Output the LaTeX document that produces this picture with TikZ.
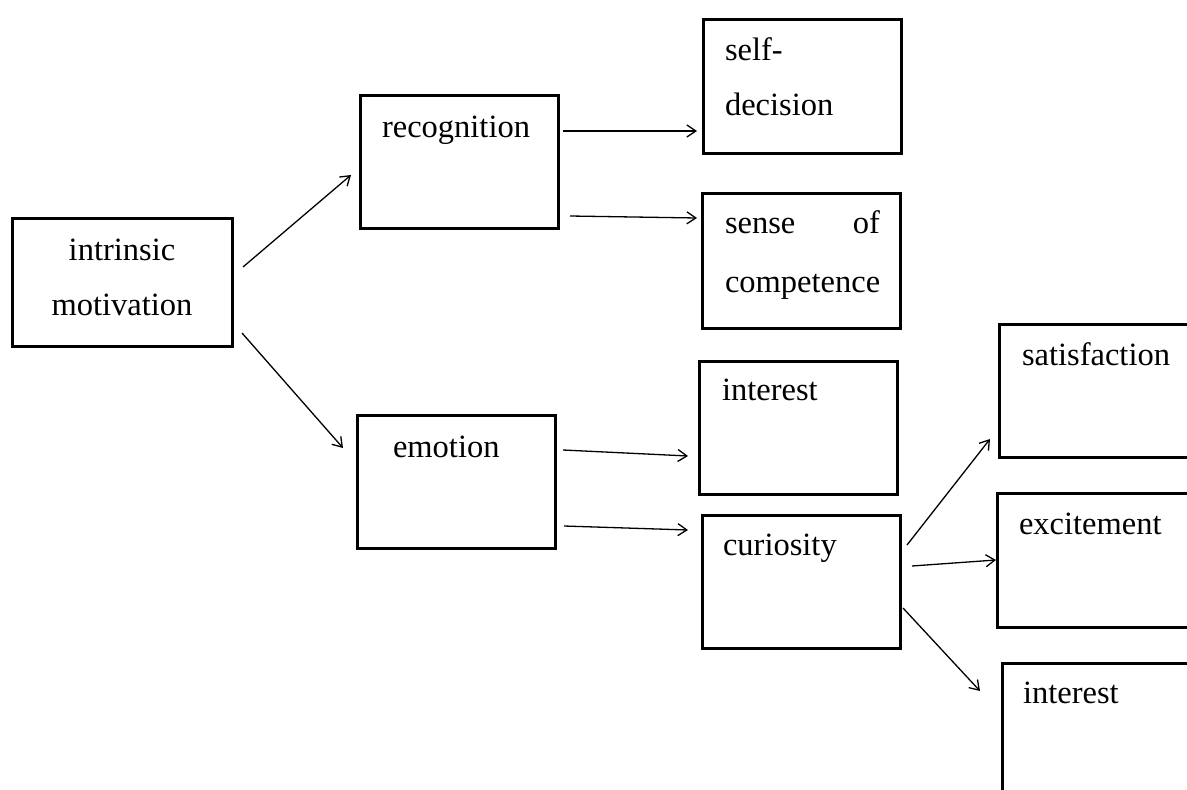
\documentclass[tikz,border=0pt]{standalone}
\usepackage{fontspec}
\setmainfont{Liberation Serif}
\usetikzlibrary{arrows.meta}
\begin{document}
\begin{tikzpicture}[x=1pt,y=-1pt,
  box/.style={draw,line width=3pt,inner sep=0pt,outer sep=0pt,minimum width=198pt,minimum height=133pt},
  lbl/.style={inner sep=0pt,outer sep=0pt,anchor=base west,font=\fontsize{32.5}{55}\selectfont},
  arr/.style={line width=1.3pt,-{Straight Barb[length=9pt,width=12pt,line width=1.3pt]}}]
\useasboundingbox (0,0) rectangle (1187,790);
\clip (0,0) rectangle (1187,790);
% boxes
\node[box,minimum width=220pt,minimum height=128pt] (intr) at (122,282) {};
\node[box] (recog) at (459,161.5) {};
\node[box,minimum height=134pt] (selfd) at (802,86) {};
\node[box,minimum height=135pt] (sense) at (801,260.5) {};
\node[box] (emot) at (456,481.5) {};
\node[box] (int1) at (798,427.5) {};
\node[box] (curi) at (801,581.5) {};
\node[box] (satis) at (1098,390.5) {};
\node[box,minimum height=134pt] (excit) at (1096,560) {};
\node[box] (int2) at (1101,729.5) {};
% texts
\node[lbl,anchor=base,align=center] (intrt) at (122,315) {intrinsic\\motivation};
\node[lbl] (recogt) at (382,137) {recognition};
\node[lbl,align=left] (selfdt) at (725,115) {self-\\decision};
\node[lbl,text width=155pt,align=justify,font=\fontsize{32.5}{59}\selectfont] (senset) at (725,233) {sense\hfill of\\competence};
\node[lbl] (emott) at (393,457) {emotion};
\node[lbl] (int1t) at (722,400) {interest};
\node[lbl] (curit) at (723,555) {curiosity};
\node[lbl] (satist) at (1022,365) {satisfaction};
\node[lbl] (excitt) at (1019,534) {excitement};
\node[lbl] (int2t) at (1023,703) {interest};
% arrows
\draw[arr] ([shift={(11,-15)}]intr.east) -- ([shift={(-9,13.5)}]recog.west);
\draw[arr] ([shift={(10,-13)}]intr.south east) -- ([shift={(-14,33)}]emot.north west);
\draw[arr] ([shift={(5,-30.5)}]recog.east) -- ([shift={(-6,45)}]selfd.west);
\draw[arr] ([shift={(12,54.5)}]recog.east) -- ([shift={(-5,-42.5)}]sense.west);
\draw[arr] ([shift={(8,-31.5)}]emot.east) -- ([shift={(-11,28.5)}]int1.west);
\draw[arr] ([shift={(9,44.5)}]emot.east) -- ([shift={(-14,-51.5)}]curi.west);
\draw[arr] ([shift={(7,-36.5)}]curi.east) -- ([shift={(-9,48.5)}]satis.west);
\draw[arr] ([shift={(12,-15.5)}]curi.east) -- ([shift={(-1,0)}]excit.west);
\draw[arr] ([shift={(3,26.5)}]curi.east) -- ([shift={(-22,-38.5)}]int2.west);
\end{tikzpicture}
\end{document}
